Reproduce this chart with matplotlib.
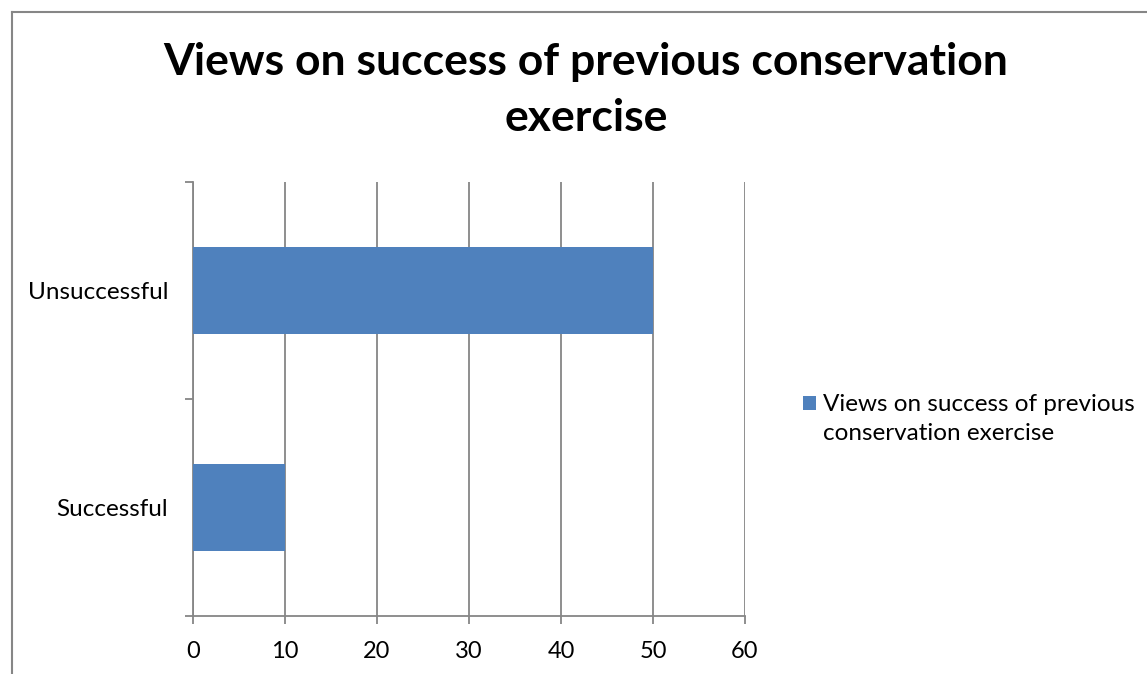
import matplotlib.pyplot as plt
from matplotlib.lines import Line2D
from matplotlib.patches import Rectangle
from matplotlib.legend_handler import HandlerPatch

categories = ['Successful', 'Unsuccessful']
values = [10, 50]
series_name = 'Views on success of previous\nconservation exercise'
chart_title = 'Views on success of previous conservation\nexercise'
xticks = [0, 10, 20, 30, 40, 50, 60]

bar_col = '#4F81BD'
grey = '#868686'
plt.rcParams['font.family'] = ['Lato', 'DejaVu Sans']

fig = plt.figure(figsize=(11.47, 6.74), dpi=100)
ax = fig.add_axes([193 / 1147, 1 - 616 / 674, 552 / 1147, 434 / 674])

ypos = list(range(len(categories)))
bars = ax.barh(ypos, values, height=0.4, color=bar_col, zorder=3)

ax.set_xlim(0, 60)
ax.set_ylim(-0.5, 1.5)
ax.set_xticks(xticks)
ax.set_yticks(ypos)
ax.set_yticklabels(categories)
ax.set_yticks([-0.5, 0.5, 1.5], minor=True)
ax.grid(axis='x', color=grey, linewidth=1.3, zorder=0)

for s in ['top', 'right']:
    ax.spines[s].set_visible(False)
for s in ['left', 'bottom']:
    ax.spines[s].set_color(grey)
    ax.spines[s].set_linewidth(1.3)

ax.tick_params(axis='x', length=5.8, width=1.3, color=grey, labelsize=17, pad=12)
ax.tick_params(axis='y', which='major', length=0, labelsize=17.5, pad=18)
ax.tick_params(axis='y', which='minor', length=5.8, width=1.3, color=grey)

fig.text(0.511, 1 - 42 / 674, chart_title, ha='center', va='top',
         fontsize=32, fontweight='bold', linespacing=1.48)


# legend key sits level with the first line of the label
def top_square(legend, orig_handle, xdescent, ydescent, width, height, fontsize):
    return Rectangle((-xdescent, -ydescent + 11.2), width, height)


leg = fig.legend([bars.patches[0]], [series_name], loc='upper left',
                 bbox_to_anchor=(803 / 1147, 1 - 394 / 674),
                 frameon=False, fontsize=17.5, handlelength=0.535, handleheight=0.535,
                 handletextpad=0.3, borderpad=0, borderaxespad=0,
                 handler_map={Rectangle: HandlerPatch(patch_func=top_square)})
for t in leg.get_texts():
    t.set_linespacing(1.45)

# chart frame (left and top edges)
fig.add_artist(Line2D([11.5 / 1147, 11.5 / 1147], [0, 1 - 11.5 / 674],
                      color=grey, linewidth=1.5, transform=fig.transFigure))
fig.add_artist(Line2D([11.5 / 1147, 1], [1 - 11.5 / 674, 1 - 11.5 / 674],
                      color=grey, linewidth=1.5, transform=fig.transFigure))

fig.savefig('out.png', dpi=100)
